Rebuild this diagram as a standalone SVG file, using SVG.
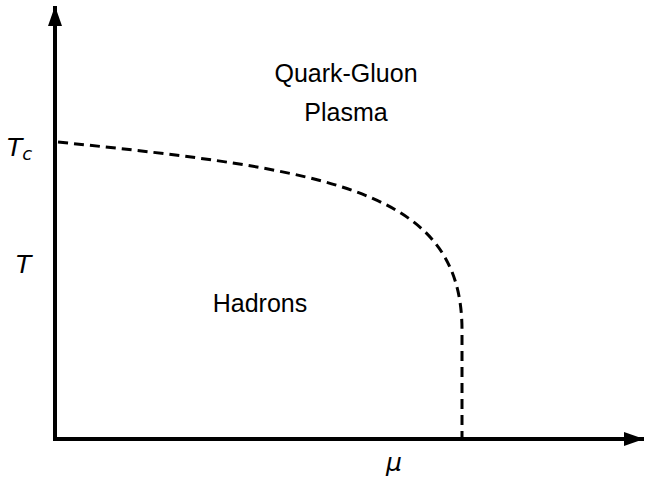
<svg xmlns="http://www.w3.org/2000/svg" width="645" height="477" viewBox="0 0 645 477">
<style>
.lbl{font-family:"Liberation Sans",Arial,sans-serif;font-size:25px;fill:#000;text-anchor:middle}
.math{font-family:"DejaVu Sans","Liberation Sans",sans-serif;font-style:italic;fill:#000}
.axis{stroke:#000;stroke-width:4;fill:none}
.dash{stroke:#000;stroke-width:3;fill:none;stroke-dasharray:10 6}
</style>
<defs>
<marker id="ah" markerUnits="userSpaceOnUse" markerWidth="22" markerHeight="16" refX="20" refY="7" orient="auto">
<path d="M0,0 L20,7 L0,14 Z" fill="#000"/>
</marker>
</defs>
<g id="connectors">
<path id="axis-T" class="axis" d="M55,441 L55,6" marker-end="url(#ah)"/>
<path id="axis-mu" class="axis" d="M53,439 L644,439" marker-end="url(#ah)"/>
<path id="phase-boundary" class="dash" d="M58,142 C330,170 462,190 462,330 L462,437"/>
</g>
<g id="qgp"><text class="lbl" x="346" y="82">Quark-Gluon</text><text class="lbl" x="346" y="121">Plasma</text></g>
<g id="hadrons"><text class="lbl" x="260" y="312">Hadrons</text></g>
<g id="Tc"><text class="math" x="7" y="156" font-size="25">T<tspan font-size="18" dy="4">c</tspan></text></g>
<g id="T"><text class="math" x="16" y="273" font-size="25">T</text></g>
<g id="mu"><text class="math" x="386" y="471" font-size="25">μ</text></g>
</svg>
